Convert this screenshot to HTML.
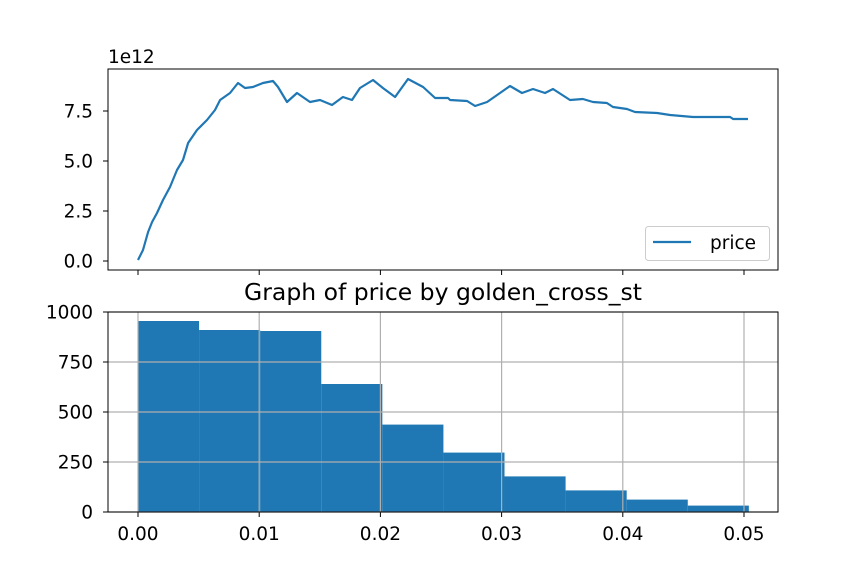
<!DOCTYPE html>
<html><head><meta charset="utf-8"><style>
body{margin:0;background:#fff}
svg{font-family:"DejaVu Sans","Liberation Sans",sans-serif}
</style></head><body>
<svg id="c" width="864" height="576" xmlns="http://www.w3.org/2000/svg"></svg>
<script>
const lineX=[0,41,83,116,157,206,264,322,371,413,487,569,635,677,759,825,883,949,1031,1114,1155,1229,1312,1419,1502,1601,1691,1766,1832,1939,2021,2121,2228,2352,2451,2558,2575,2715,2781,2880,2987,3069,3168,3259,3358,3424,3564,3671,3754,3869,3919,4035,4101,4283,4390,4579,4885,4910,5033];
const lineY=[0.05,0.55,1.45,1.95,2.4,3.05,3.7,4.55,5.05,5.9,6.55,7.05,7.55,8.05,8.4,8.9,8.65,8.7,8.9,9.0,8.7,7.95,8.4,7.95,8.05,7.8,8.2,8.05,8.65,9.05,8.65,8.2,9.1,8.7,8.15,8.15,8.05,8.0,7.75,7.95,8.4,8.75,8.4,8.6,8.4,8.6,8.05,8.1,7.95,7.9,7.7,7.6,7.45,7.4,7.3,7.2,7.2,7.1,7.1];
const topYTicks=[0,2.5,5,7.5];
const topYLabels=["0.0","2.5","5.0","7.5"];
const topXTicks=[0,1000,2000,3000,4000,5000];
const binEdges=[0,0.00504,0.01008,0.01512,0.02016,0.0252,0.03024,0.03528,0.04032,0.04536,0.0504];
const binCounts=[955,910,905,640,437,297,178,108,62,32];
const botXTicks=[0,0.01,0.02,0.03,0.04,0.05];
const botXLabels=["0.00","0.01","0.02","0.03","0.04","0.05"];
const botYTicks=[0,250,500,750,1000];

const svg=document.getElementById('c');
const NS='http://www.w3.org/2000/svg';
function mk(t,a,txt){const e=document.createElementNS(NS,t);for(const k in a)e.setAttribute(k,a[k]);if(txt!==undefined)e.textContent=txt;svg.appendChild(e);return e;}
const FS=18.5;
// top axes
const tx=v=>138+v*0.1212, ty=v=>261-v*20;
let d=lineX.map((x,i)=>(i?'L':'M')+tx(x).toFixed(1)+' '+ty(lineY[i]).toFixed(1)).join(' ');
let p=mk('path',{d:d,fill:'none',stroke:'#1f77b4','stroke-width':2.2,'stroke-linejoin':'round'});


let f=mk('rect',{x:108,y:69,width:670,height:201,fill:'none',stroke:'#000','stroke-width':1});


topYTicks.forEach((v,i)=>{const y=ty(v);mk('line',{x1:103,x2:108,y1:y,y2:y,stroke:'#000'});
 let t=mk('text',{x:93,y:y+6.5,'text-anchor':'end','font-size':FS},topYLabels[i]);
 
 });
topXTicks.forEach(v=>{const x=tx(v);mk('line',{x1:x,x2:x,y1:270,y2:275,stroke:'#000'});});
let ex=mk('text',{x:108,y:63,'font-size':FS},'1e12');


let lg=mk('rect',{x:645.5,y:226.5,width:124,height:34,rx:3,fill:'#fff',stroke:'#ccc'});


mk('line',{x1:653,x2:691,y1:242,y2:242,stroke:'#1f77b4','stroke-width':2.2});
let lt=mk('text',{x:710,y:249,'font-size':FS},'price');


// bottom axes
const bx=v=>138+v*12120, by=v=>512-v*0.2;
binCounts.forEach((c,i)=>{let r=mk('rect',{x:bx(binEdges[i]),y:by(c),width:bx(binEdges[i+1])-bx(binEdges[i]),height:512-by(c),fill:'#1f77b4'});
 
 });
botXTicks.forEach((v,i)=>{const x=bx(v);mk('line',{x1:x,x2:x,y1:312,y2:512,stroke:'#b0b0b0','stroke-width':1.2});
 mk('line',{x1:x,x2:x,y1:512,y2:517,stroke:'#000'});
 let t=mk('text',{x:x,y:540,'text-anchor':'middle','font-size':FS},botXLabels[i]);
 
 });
botYTicks.forEach(v=>{const y=by(v);mk('line',{x1:108,x2:778,y1:y,y2:y,stroke:'#b0b0b0','stroke-width':1.2});
 mk('line',{x1:103,x2:108,y1:y,y2:y,stroke:'#000'});
 let t=mk('text',{x:93,y:y+6.5,'text-anchor':'end','font-size':FS},String(v));
 
 });
let f2=mk('rect',{x:108,y:312,width:670,height:200,fill:'none',stroke:'#000','stroke-width':1});


let tt=mk('text',{x:443,y:300,'text-anchor':'middle','font-size':23.5},'Graph of price by golden_cross_st');


</script>
</body></html>
